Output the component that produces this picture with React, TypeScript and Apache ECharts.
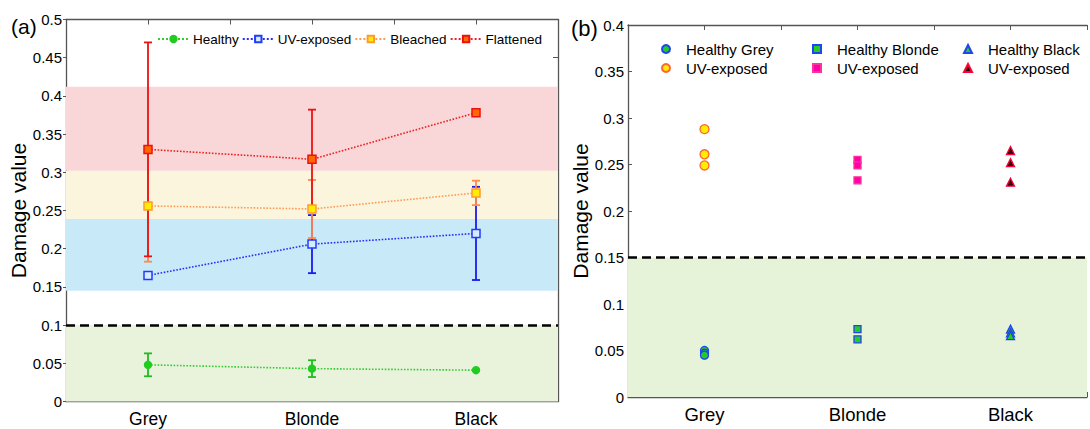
import React, { useEffect, useRef } from 'react';
import * as echarts from 'echarts';

// ---------- data ----------
const categories = ['Grey', 'Blonde', 'Black'];

// panel (a): mean damage value and half error bar per hair colour
const healthyMean = [0.048, 0.043, 0.041];
const healthyErr = [0.015, 0.011, 0];
const uvMean = [0.165, 0.206, 0.22];
const uvErr = [0, 0.038, 0.061];
const bleachedMean = [0.256, 0.252, 0.273];
const bleachedErr = [0.073, 0.038, 0.016];
const flattenedMean = [0.33, 0.317, 0.378];
const flattenedErr = [0.14, 0.065, 0];

const bandLimitsA = [
  [0, 0.1],
  [0.145, 0.239],
  [0.239, 0.302],
  [0.302, 0.412],
];
const thresholdA = 0.1;

// panel (b): individual samples
const healthyGrey = [0.05, 0.047, 0.045];
const uvGrey = [0.288, 0.261, 0.249];
const healthyBlonde = [0.073, 0.062];
const uvBlonde = [0.255, 0.249, 0.233];
const healthyBlack = [0.073, 0.069, 0.066];
const uvBlack = [0.265, 0.252, 0.231];
const thresholdB = 0.15;

const legendA = ['Healthy', 'UV-exposed', 'Bleached', 'Flattened'];

const FONT = 'Liberation Sans, Arial, sans-serif';
const AXIS_COLOR = '#555';

const bandColorsA = ['#e9f3dc', '#c8eaf8', '#fcf5de', '#f9d7d9'];

function xLabel(v: number) {
  const r = Math.round(v);
  if (Math.abs(v - r) > 1e-6) return '';
  return categories[r - 1] || '';
}

function lineSeries(name: string, means: number[], symbol: string, size: number, lineColor: string, fill: string, border: string) {
  return {
    type: 'line',
    name,
    xAxisIndex: 0,
    yAxisIndex: 0,
    z: 4,
    data: means.map((v, i) => [i + 1, v]),
    symbol,
    symbolSize: size,
    showSymbol: true,
    lineStyle: { color: lineColor, type: 'dotted', width: 1.6 },
    itemStyle: { color: fill, borderColor: border, borderWidth: 1.5 },
  };
}

function errSeries(name: string, means: number[], errs: number[], color: string) {
  const data = means
    .map((m, i) => [i + 1, m - errs[i], m + errs[i]])
    .filter((_, i) => errs[i] > 0);
  return {
    type: 'custom',
    name,
    xAxisIndex: 0,
    yAxisIndex: 0,
    z: 3,
    silent: true,
    data,
    encode: { x: 0, y: [1, 2] },
    renderItem: (_params: any, api: any) => {
      const x = api.value(0);
      const lo = api.value(1);
      const hi = api.value(2);
      const p1 = api.coord([x, hi]);
      const p2 = api.coord([x, lo]);
      const w = 4;
      const st = { stroke: color, lineWidth: 1.8 };
      return {
        type: 'group',
        children: [
          { type: 'line', shape: { x1: p1[0], y1: p1[1], x2: p2[0], y2: p2[1] }, style: st },
          { type: 'line', shape: { x1: p1[0] - w, y1: p1[1], x2: p1[0] + w, y2: p1[1] }, style: st },
          { type: 'line', shape: { x1: p2[0] - w, y1: p2[1], x2: p2[0] + w, y2: p2[1] }, style: st },
        ],
      };
    },
  };
}

function scatterSeries(name: string, values: number[], xi: number, symbol: string, size: number, fill: string, border: string) {
  return {
    type: 'scatter',
    name,
    xAxisIndex: 2,
    yAxisIndex: 2,
    z: 4,
    data: values.map((v) => [xi, v]),
    symbol,
    symbolSize: size,
    itemStyle: { color: fill, borderColor: border, borderWidth: 1.3, opacity: 1 },
  };
}

function xAxisCfg(gridIndex: number, position: string, showLabel: boolean, fontSize: number) {
  return {
    type: 'value',
    gridIndex,
    position,
    min: 0.5,
    max: 3.5,
    interval: 0.5,
    splitLine: { show: false },
    axisLine: { show: true, onZero: false, lineStyle: { color: AXIS_COLOR, width: 1.3 } },
    axisTick: { show: true, inside: true, length: 5, lineStyle: { color: AXIS_COLOR } },
    axisLabel: {
      show: showLabel,
      formatter: xLabel,
      color: '#000',
      fontSize,
      fontFamily: FONT,
      margin: 8,
    },
  };
}

function legendCfg(data: string[], left: number, top: number) {
  return {
    data,
    left,
    top,
    orient: 'vertical',
    itemWidth: 8,
    itemHeight: 8,
    itemGap: 3,
    padding: 0,
    selectedMode: false,
    formatter: (n: string) => n.replace(/ \((Grey|Blonde|Black)\)$/, ''),
    textStyle: { fontSize: 15, fontFamily: FONT, color: '#000', lineHeight: 16, padding: [0, 0, 0, 11] },
  };
}

export default function App() {
  const ref = useRef<HTMLDivElement>(null);

  useEffect(() => {
    document.body.style.margin = '0';
    if (!ref.current) return;
    const chart = echarts.init(ref.current, undefined, { renderer: 'svg' });

    const option: any = {
      animation: false,
      backgroundColor: '#fff',
      textStyle: { fontFamily: FONT },
      graphic: [
        { type: 'text', left: 11, top: 16, style: { text: '(a)', font: '21px Liberation Sans', fill: '#000' } },
        { type: 'text', left: 571, top: 17, style: { text: '(b)', font: '22px Liberation Sans', fill: '#000' } },
      ],
      grid: [
        { left: 66, top: 19.5, width: 492, height: 382 },
        { left: 628, top: 25, width: 471, height: 372 },
      ],
      xAxis: [
        xAxisCfg(0, 'bottom', true, 17.5),
        xAxisCfg(0, 'top', false, 17.5),
        xAxisCfg(1, 'bottom', true, 18.5),
        xAxisCfg(1, 'top', false, 18.5),
      ],
      yAxis: [
        {
          type: 'value',
          gridIndex: 0,
          position: 'left',
          min: 0,
          max: 0.5,
          interval: 0.05,
          name: 'Damage value',
          nameLocation: 'middle',
          nameGap: 36,
          nameRotate: 90,
          nameTextStyle: { fontSize: 21, fontFamily: FONT, color: '#000' },
          splitLine: { show: false },
          axisLine: { show: true, onZero: false, lineStyle: { color: AXIS_COLOR, width: 1.3 } },
          axisTick: { show: true, inside: false, length: 3, lineStyle: { color: AXIS_COLOR } },
          axisLabel: { color: '#000', fontSize: 15, fontFamily: FONT, margin: 4 },
        },
        {
          type: 'value',
          gridIndex: 0,
          position: 'right',
          min: 0,
          max: 0.5,
          interval: 0.05,
          splitLine: { show: false },
          axisLine: { show: true, onZero: false, lineStyle: { color: AXIS_COLOR, width: 1.3 } },
          axisTick: { show: true, inside: true, length: 5, lineStyle: { color: AXIS_COLOR } },
          axisLabel: { show: false },
        },
        {
          type: 'value',
          gridIndex: 1,
          position: 'left',
          min: 0,
          max: 0.4,
          interval: 0.05,
          name: 'Damage value',
          nameLocation: 'middle',
          nameGap: 36,
          nameRotate: 90,
          nameTextStyle: { fontSize: 21, fontFamily: FONT, color: '#000' },
          splitLine: { show: false },
          axisLine: { show: true, onZero: false, lineStyle: { color: AXIS_COLOR, width: 1.3 } },
          axisTick: { show: true, inside: true, length: 4, lineStyle: { color: AXIS_COLOR } },
          axisLabel: { color: '#000', fontSize: 15, fontFamily: FONT, margin: 4 },
        },
      ],
      legend: [
        {
          data: legendA,
          left: 157,
          top: 32,
          itemWidth: 31,
          itemHeight: 8,
          itemGap: 3,
          padding: 0,
          selectedMode: false,
          textStyle: { fontSize: 13.5, fontFamily: FONT, color: '#000', padding: [0, 0, 0, -1] },
        },
        legendCfg(['Healthy Grey', 'UV-exposed (Grey)'], 661, 41),
        legendCfg(['Healthy Blonde', 'UV-exposed (Blonde)'], 812, 41),
        legendCfg(['Healthy Black', 'UV-exposed (Black)'], 963, 41),
      ],
      series: [
        // background bands (a)
        {
          type: 'line',
          name: '_bandsA',
          xAxisIndex: 0,
          yAxisIndex: 0,
          z: 1,
          silent: true,
          data: [],
          markArea: {
            silent: true,
            data: bandLimitsA.map((b, i) => [
              { yAxis: b[0], itemStyle: { color: bandColorsA[i], opacity: 1 } },
              { yAxis: b[1] },
            ]),
          },
        },
        {
          type: 'line',
          name: '_thrA',
          xAxisIndex: 0,
          yAxisIndex: 0,
          z: 5,
          silent: true,
          data: [],
          markLine: {
            silent: true,
            symbol: ['none', 'none'],
            label: { show: false },
            lineStyle: { color: '#000', type: [9, 5], width: 2.5 },
            data: [{ yAxis: thresholdA }],
          },
        },
        errSeries('_errH', healthyMean, healthyErr, '#22bb22'),
        errSeries('_errU', uvMean, uvErr, '#1a1aee'),
        errSeries('_errB', bleachedMean, bleachedErr, '#ff8a4a'),
        errSeries('_errF', flattenedMean, flattenedErr, '#ee1111'),
        lineSeries('Healthy', healthyMean, 'circle', 7, '#33cc33', '#1fcc1f', '#1fcc1f'),
        lineSeries('UV-exposed', uvMean, 'rect', 8, '#2a2aff', '#d8ecff', '#1f3cff'),
        lineSeries('Bleached', bleachedMean, 'rect', 8, '#ff9955', '#ffee00', '#ff9933'),
        lineSeries('Flattened', flattenedMean, 'rect', 8, '#ee2222', '#ff6a00', '#ee1111'),
        // panel (b)
        {
          type: 'line',
          name: '_bandB',
          xAxisIndex: 2,
          yAxisIndex: 2,
          z: 1,
          silent: true,
          data: [],
          markArea: {
            silent: true,
            data: [[{ yAxis: 0, itemStyle: { color: '#e7f3d9', opacity: 1 } }, { yAxis: thresholdB }]],
          },
        },
        {
          type: 'line',
          name: '_thrB',
          xAxisIndex: 2,
          yAxisIndex: 2,
          z: 5,
          silent: true,
          data: [],
          markLine: {
            silent: true,
            symbol: ['none', 'none'],
            label: { show: false },
            lineStyle: { color: '#000', type: [9, 5], width: 2.5 },
            data: [{ yAxis: thresholdB }],
          },
        },
        scatterSeries('Healthy Grey', healthyGrey, 1, 'circle', 8, '#22cc22', '#2244ee'),
        scatterSeries('UV-exposed (Grey)', uvGrey, 1, 'circle', 9, '#ffee00', '#ff6633'),
        scatterSeries('Healthy Blonde', healthyBlonde, 2, 'rect', 7, '#22cc22', '#2244ee'),
        scatterSeries('UV-exposed (Blonde)', uvBlonde, 2, 'rect', 7, '#ff00aa', '#ff3399'),
        scatterSeries('Healthy Black', healthyBlack, 3, 'triangle', 8, '#22cc22', '#2244ee'),
        scatterSeries('UV-exposed (Black)', uvBlack, 3, 'triangle', 8, '#330011', '#ff0033'),
      ],
    };

    chart.setOption(option);
    return () => chart.dispose();
  }, []);

  return <div ref={ref} style={{ width: 1090, height: 429 }} />;
}
